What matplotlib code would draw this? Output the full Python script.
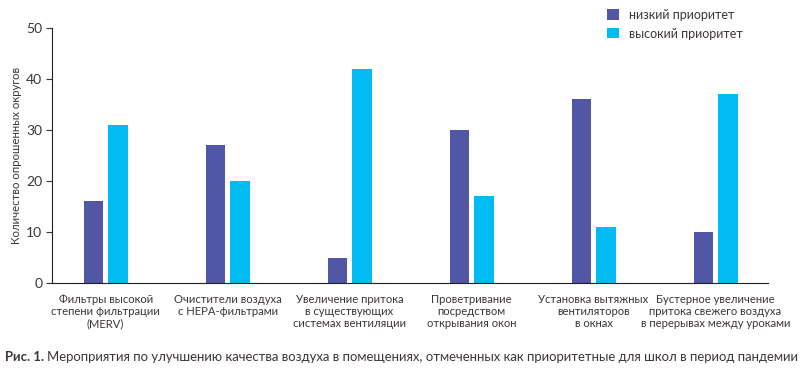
import matplotlib
matplotlib.use('Agg')
import matplotlib.pyplot as plt
import numpy as np

# данные
categories = ['Фильтры высокой\nстепени фильтрации\n(MERV)',
              'Очистители воздуха\nс HEPA-фильтрами',
              'Увеличение притока\nв существующих\nсистемах вентиляции',
              'Проветривание\nпосредством\nоткрывания окон',
              'Установка вытяжных\nвентиляторов\nв окнах',
              'Бустерное увеличение\nпритока свежего воздуха\nв перерывах между уроками']
low_priority = [16, 27, 5, 30, 36, 10]
high_priority = [31, 20, 42, 17, 11, 37]
y_ticks = [0, 10, 20, 30, 40, 50]

txt = '#3d3636'
plt.rcParams['font.family'] = ['Lato', 'DejaVu Sans']
plt.rcParams['text.color'] = txt
plt.rcParams['axes.labelcolor'] = txt
plt.rcParams['xtick.color'] = txt
plt.rcParams['ytick.color'] = txt

fig = plt.figure(figsize=(8, 3.74), dpi=100)
ax = fig.add_axes([0.065, 0.243, 0.895, 0.682])

x = np.arange(len(categories))
w = 0.16
ax.bar(x - 0.1, low_priority, w, color='#5257a5', label='низкий приоритет')
ax.bar(x + 0.1, high_priority, w, color='#00bcf2', label='высокий приоритет')

ax.set_xlim(-0.44, 5.43)
ax.set_ylim(0, 50)
ax.set_yticks(y_ticks)
ax.set_xticks(x)
ax.set_xticklabels(categories, fontsize=8.1, linespacing=1.1)
ax.tick_params(axis='x', length=0, pad=8)
ax.tick_params(axis='y', length=4, direction='out', labelsize=10, pad=3)
ax.spines['top'].set_visible(False)
ax.spines['right'].set_visible(False)
ax.spines['left'].set_color('#231f20')
ax.spines['bottom'].set_color('#231f20')
ax.set_ylabel('Количество опрошенных округов', fontsize=8.2, labelpad=3)

ax.legend(loc='upper left', bbox_to_anchor=(0.76, 1.12), frameon=False,
          fontsize=9, handlelength=0.9, handleheight=0.9, handletextpad=0.8,
          labelspacing=0.55)

# подпись к рисунку
t1 = fig.text(0.006, 0.035, 'Рис. 1.', fontsize=9.45, fontweight='bold')
fig.canvas.draw()
bb = t1.get_window_extent()
fig.text((bb.x1 + 3) / fig.bbox.width, 0.035,
         'Мероприятия по улучшению качества воздуха в помещениях, отмеченных как приоритетные для школ в период пандемии',
         fontsize=9.45)

fig.savefig('out.png', dpi=100)
